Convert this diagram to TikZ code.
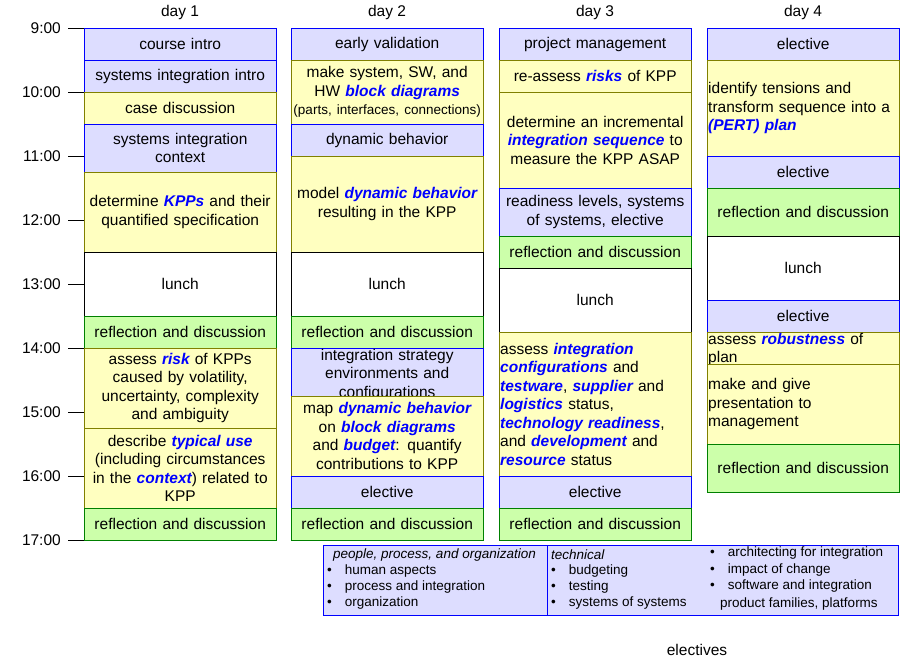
\documentclass[tikz,border=0pt]{standalone}
\usepackage{fontspec}
\setmainfont{Liberation Sans}
\usetikzlibrary{positioning}
\definecolor{bluefill}{RGB}{221,221,255}
\definecolor{yellowfill}{RGB}{255,255,192}
\definecolor{greenfill}{RGB}{204,255,170}
\definecolor{olive}{RGB}{128,128,0}
\definecolor{darkgreen}{RGB}{0,128,0}
\newcommand{\hl}[1]{\textcolor{blue}{\bfseries\itshape #1}}
% one block of the schedule: name, left edge, start hour, end hour, style, text
\newcommand{\slot}[6]{%
  \node[#5, minimum height={(#4-#3)*64pt}, anchor=north west] (#1) at (#2pt,{-28-64*(#3-9)}) {#6};}
\begin{document}
\begin{tikzpicture}[x=1pt,y=1pt,font=\fontsize{15.5}{18.5}\selectfont]
  \tikzstyle{block}=[draw,minimum width=192pt,text width=190pt,align=center,inner sep=1pt]
  \tikzstyle{bluebox}=[block,draw=blue,fill=bluefill]
  \tikzstyle{yellowbox}=[block,draw=olive,fill=yellowfill]
  \tikzstyle{greenbox}=[block,draw=darkgreen,fill=greenfill]
  \tikzstyle{lunchbox}=[block,draw=black,fill=white]
  \tikzstyle{legend}=[font=\fontsize{13.5}{15}\selectfont,anchor=west,inner sep=0pt]

  \useasboundingbox (0,0) rectangle (920,-660);

  % time axis
  \foreach \h in {9,...,17} {
    \node[anchor=east,inner sep=0pt] (t\h) at (61,{-28-64*(\h-9)}) {\h:00};
    \draw (68,{-28-64*(\h-9)}) -- (84,{-28-64*(\h-9)});
  }

  % day headings
  \node (day1) at (180,-12) {day 1};
  \node (day2) at (387,-12) {day 2};
  \node (day3) at (595,-12) {day 3};
  \node (day4) at (803,-12) {day 4};

  % day 1
  \slot{a1}{84}{9}{9.5}{bluebox}{course intro}
  \slot{a2}{84}{9.5}{10}{bluebox}{systems integration intro}
  \slot{a3}{84}{10}{10.5}{yellowbox}{case discussion}
  \slot{a4}{84}{10.5}{11.25}{bluebox}{systems integration\\context}
  \slot{a5}{84}{11.25}{12.5}{yellowbox}{determine \hl{KPPs} and their\\quantified specification}
  \slot{a6}{84}{12.5}{13.5}{lunchbox}{lunch}
  \slot{a7}{84}{13.5}{14}{greenbox}{reflection and discussion}
  \slot{a8}{84}{14}{15.25}{yellowbox}{assess \hl{risk} of KPPs\\caused by volatility,\\uncertainty, complexity\\and ambiguity}
  \slot{a9}{84}{15.25}{16.5}{yellowbox}{describe \hl{typical use}\\(including circumstances\\in the \hl{context}) related to\\KPP}
  \slot{a10}{84}{16.5}{17}{greenbox}{reflection and discussion}

  % day 2
  \slot{b1}{291}{9}{9.5}{bluebox}{early validation}
  \slot{b2}{291}{9.5}{10.5}{yellowbox}{make system, SW, and\\HW \hl{block diagrams}\\{\fontsize{13.5}{15}\selectfont(parts, interfaces, connections)}}
  \slot{b3}{291}{10.5}{11}{bluebox}{dynamic behavior}
  \slot{b4}{291}{11}{12.5}{yellowbox}{model \hl{dynamic behavior}\\resulting in the KPP}
  \slot{b5}{291}{12.5}{13.5}{lunchbox}{lunch}
  \slot{b6}{291}{13.5}{14}{greenbox}{reflection and discussion}
  \slot{b7}{291}{14}{14.75}{bluebox}{integration strategy\\environments and\\configurations}
  \slot{b8}{291}{14.75}{16}{yellowbox}{map \hl{dynamic behavior}\\on \hl{block diagrams}\\and \hl{budget}: quantify\\contributions to KPP}
  \slot{b9}{291}{16}{16.5}{bluebox}{elective}
  \slot{b10}{291}{16.5}{17}{greenbox}{reflection and discussion}

  % day 3
  \slot{c1}{499}{9}{9.5}{bluebox}{project management}
  \slot{c2}{499}{9.5}{10}{yellowbox}{re-assess \hl{risks} of KPP}
  \slot{c3}{499}{10}{11.5}{yellowbox}{determine an incremental\\\hl{integration sequence} to\\measure the KPP ASAP}
  \slot{c4}{499}{11.5}{12.25}{bluebox}{readiness levels, systems\\of systems, elective}
  \slot{c5}{499}{12.25}{12.75}{greenbox}{reflection and discussion}
  \slot{c6}{499}{12.75}{13.75}{lunchbox}{lunch}
  \slot{c7}{499}{13.75}{16}{yellowbox,align=left}{assess \hl{integration}\\\hl{configurations} and\\\hl{testware}, \hl{supplier} and\\\hl{logistics} status,\\\hl{technology readiness},\\and \hl{development} and\\\hl{resource} status}
  \slot{c8}{499}{16}{16.5}{bluebox}{elective}
  \slot{c9}{499}{16.5}{17}{greenbox}{reflection and discussion}

  % day 4
  \slot{d1}{707}{9}{9.5}{bluebox}{elective}
  \slot{d2}{707}{9.5}{11}{yellowbox,align=left}{identify tensions and\\transform sequence into a\\\hl{(PERT) plan}}
  \slot{d3}{707}{11}{11.5}{bluebox}{elective}
  \slot{d4}{707}{11.5}{12.25}{greenbox}{reflection and discussion}
  \slot{d5}{707}{12.25}{13.25}{lunchbox}{lunch}
  \slot{d6}{707}{13.25}{13.75}{bluebox}{elective}
  \slot{d7}{707}{13.75}{14.25}{yellowbox,align=left}{assess \hl{robustness} of\\plan}
  \slot{d8}{707}{14.25}{15.5}{yellowbox,align=left}{make and give\\presentation to\\management}
  \slot{d9}{707}{15.5}{16.25}{greenbox}{reflection and discussion}

  % electives legend
  \draw[blue,fill=bluefill] (323,-545) rectangle (898,-615);
  \draw[blue] (547,-545) -- (547,-615);
  \node[legend] (p0) at (333,-555) {\itshape people, process, and organization};
  \node[legend] (p1) at (327,-571) {\textbullet\hspace{13pt}human aspects};
  \node[legend] (p2) at (327,-587) {\textbullet\hspace{13pt}process and integration};
  \node[legend] (p3) at (327,-603) {\textbullet\hspace{13pt}organization};
  \node[legend] (q0) at (551,-555) {\itshape technical};
  \node[legend] (q1) at (551,-571) {\textbullet\hspace{13pt}budgeting};
  \node[legend] (q2) at (551,-587) {\textbullet\hspace{13pt}testing};
  \node[legend] (q3) at (551,-603) {\textbullet\hspace{13pt}systems of systems};
  \node[legend] (r1) at (710,-553) {\textbullet\hspace{13pt}architecting for integration};
  \node[legend] (r2) at (710,-570) {\textbullet\hspace{13pt}impact of change};
  \node[legend] (r3) at (710,-586) {\textbullet\hspace{13pt}software and integration};
  \node[legend] (r4) at (720,-604) {product families, platforms};
  \node (electives) at (697,-650) {electives};
\end{tikzpicture}
\end{document}
